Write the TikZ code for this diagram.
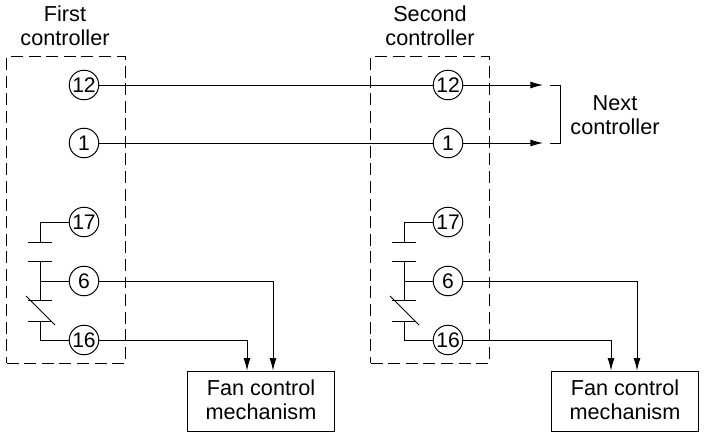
\documentclass[tikz,border=0pt]{standalone}
\usepackage{fontspec}
\setmainfont{Liberation Sans}
\usetikzlibrary{arrows.meta}
\begin{document}
\begin{tikzpicture}[x=0.025cm,y=-0.025cm,line width=0.7pt,
    term/.style={draw, circle, fill=white, inner sep=0pt, minimum size=21pt, font=\fontsize{15}{17}\selectfont},
    ctrl/.style={draw, dashed, line width=0.8pt, dash pattern=on 8.5pt off 4pt, rectangle, minimum width=84.3pt, minimum height=218pt},
    mech/.style={draw, line width=0.8pt, rectangle, minimum width=105pt, minimum height=43pt, align=center, inner sep=0pt, font=\fontsize{15.4}{17}\selectfont},
    lbl/.style={align=center, inner sep=0pt, font=\fontsize{15.4}{17}\selectfont},
    wire/.style={-{Latex[length=9pt,width=5pt]}}]

        \useasboundingbox (0,0) rectangle (708,438);

        \node[ctrl] (f) at (66,210) {};
        \node[ctrl] (s) at (430,210) {};
        \node[lbl] (fl) at (65,26) {First\\controller};
        \node[lbl] (sl) at (430,26) {Second\\controller};
        \node[lbl] (nl) at (615,115) {Next\\controller};

        \node[term] (a12) at (84,85) {12};
        \node[term] (a1) at (84,143) {1};
        \node[term] (a17) at (84,222) {17};
        \node[term] (a6) at (84,281) {6};
        \node[term] (a16) at (84,340) {16};

        \node[term] (b12) at (448,85) {12};
        \node[term] (b1) at (448,143) {1};
        \node[term] (b17) at (448,222) {17};
        \node[term] (b6) at (448,281) {6};
        \node[term] (b16) at (448,340) {16};

        \node[mech] (m) at (261,401.5) {Fan control\\mechanism\rule[-3pt]{0pt}{3pt}};
        \node[mech] (n) at (625,401.5) {Fan control\\mechanism\rule[-3pt]{0pt}{3pt}};

        \coordinate (x12) at (543,85);
        \coordinate (x1) at (543,143);
        \coordinate (u) at (550,85);
        \coordinate (v) at (550,143);
        \coordinate (w) at (560,85);

        \path[draw] (a12) -- (b12);
        \path[draw] (a1) -- (b1);
        \path[draw,wire] (b12) -- (x12);
        \path[draw,wire] (b1) -- (x1);
        \path[draw] (u) -- (w) -- (w |- v) -- (v);

        \path[draw,wire] (a6) -| (m.north -| 273,0);
        \path[draw,wire] (a16) -| (m.north -| 247,0);
        \path[draw,wire] (b6) -| (n.north -| 637,0);
        \path[draw,wire] (b16) -| (n.north -| 611,0);

        \coordinate (c) at (40,242);
        \coordinate (d) at (40,261);
        \coordinate (e) at (40,300);
        \coordinate (g) at (40,321);
        \path[draw] (a17) -| (c);
        \path[draw] (28,242) -- (52,242);
        \path[draw] (28,261) -- (52,261);
        \path[draw] (d) -- (e);
        \path[draw] (a6) -- (a6 -| d);
        \path[draw] (28,300) -- (52,300);
        \path[draw] (28,321) -- (51,321);
        \path[draw] (26,296) -- (55,325);
        \path[draw] (a16) -| (g);

        \coordinate (h) at (404,242);
        \coordinate (i) at (404,261);
        \coordinate (j) at (404,300);
        \coordinate (k) at (404,321);
        \path[draw] (b17) -| (h);
        \path[draw] (392,242) -- (416,242);
        \path[draw] (392,261) -- (416,261);
        \path[draw] (i) -- (j);
        \path[draw] (b6) -- (b6 -| i);
        \path[draw] (392,300) -- (416,300);
        \path[draw] (392,321) -- (415,321);
        \path[draw] (390,296) -- (419,325);
        \path[draw] (b16) -| (k);
    \end{tikzpicture}
\end{document}
